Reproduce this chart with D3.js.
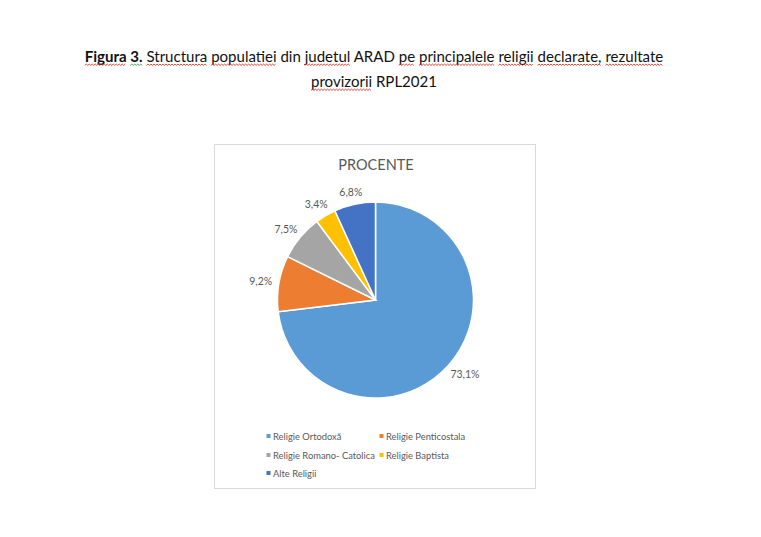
<!DOCTYPE html>
<html><head><meta charset="utf-8">
<script src="https://cdn.jsdelivr.net/npm/d3@7"></script>
<style>body{margin:0;background:#fff}svg{display:block}</style>
</head><body>
<svg id="c" width="761" height="537"></svg>
<script>
// ---- data ----
const categories = ["Religie Ortodoxă", "Religie Penticostala", "Religie Romano- Catolica", "Religie Baptista", "Alte Religii"];
const values = [73.1, 9.2, 7.5, 3.4, 6.8];
const valueLabels = ["73,1%", "9,2%", "7,5%", "3,4%", "6,8%"];
const colors = ["#5B9BD5", "#ED7D31", "#A5A5A5", "#FFC000", "#4472C4"];
const chartTitle = "PROCENTE";
// words of the figure caption: [text, bold, spell-check mark]
const captionLine1 = [["Figura", 1, "r"], [" ", 1, ""], ["3.", 1, "g"], [" ", 0, ""], ["Structura", 0, "r"], [" ", 0, ""],
  ["populatiei", 0, "r"], [" din ", 0, ""], ["judetul", 0, "r"], [" ARAD ", 0, ""], ["pe", 0, "r"], [" ", 0, ""],
  ["principalele", 0, "r"], [" ", 0, ""], ["religii", 0, "r"], [" ", 0, ""], ["declarate,", 0, "r"], [" ", 0, ""], ["rezultate", 0, "r"]];
const captionLine2 = [["provizorii", 0, "r"], [" RPL2021", 0, ""]];

const FONT = "Lato, 'Open Sans', sans-serif";
const svg = d3.select("#c");
svg.append("rect").attr("width", 761).attr("height", 537).attr("fill", "#fff");

// ---- caption ----
const sqColor = {r: "#E0301E", g: "#2E9E3E"};
function squiggle(x0, x1, y) {
  let d = `M${x0},${y}`;
  let up = true;
  for (let x = x0 + 1.5; x <= x1; x += 1.5) { d += `L${x},${up ? y - 1.3 : y}`; up = !up; }
  return d;
}
function caption(tokens, y, fitWidth, fs) {
  const t = svg.append("text").attr("y", y).attr("font-family", FONT).attr("font-size", fs)
    .attr("fill", "#111").style("white-space", "pre").attr("text-anchor", "middle").attr("x", 374);
  const spans = tokens.map(tk => t.append("tspan").text(tk[0]).attr("font-weight", tk[1] ? "bold" : "normal"));
  if (fitWidth) {
    const w = t.node().getComputedTextLength();
    fs = fs * fitWidth / w;
    t.attr("font-size", fs);
  }
  tokens.forEach((tk, i) => {
    if (!tk[2]) return;
    const n = spans[i].node();
    const len = tk[0].length;
    const x0 = n.getStartPositionOfChar(0).x;
    const x1 = n.getEndPositionOfChar(len - 1).x;
    svg.append("path").attr("d", squiggle(x0, x1, y + 3.4)).attr("fill", "none")
      .attr("stroke", sqColor[tk[2]]).attr("stroke-width", 0.9);
  });
  return fs;
}
const fs1 = caption(captionLine1, 62, 579, 15);
caption(captionLine2, 87, 0, fs1);

// ---- chart area ----
svg.append("rect").attr("x", 214.5).attr("y", 144.5).attr("width", 321).attr("height", 344)
  .attr("fill", "#fff").attr("stroke", "#D9D9D9").attr("stroke-width", 1);

svg.append("text").attr("x", 376).attr("y", 164).attr("text-anchor", "middle").attr("dominant-baseline", "central")
  .attr("font-family", FONT).attr("font-size", 14.5).attr("fill", "#595959").text(chartTitle);

const cx = 375.5, cy = 300, R = 98;
const pie = d3.pie().sort(null).value(d => d);
const arcs = pie(values);
const arc = d3.arc().innerRadius(0).outerRadius(R);
const g = svg.append("g").attr("transform", `translate(${cx},${cy})`);
g.selectAll("path").data(arcs).join("path").attr("d", arc)
  .attr("fill", (d, i) => colors[i]).attr("stroke", "#fff").attr("stroke-width", 1.5);

// outside-end labels
const lab = g.selectAll("text.lab").data(arcs).join("text").attr("class", "lab")
  .attr("font-family", FONT).attr("font-size", 10.5).attr("fill", "#595959")
  .attr("text-anchor", "middle").attr("dominant-baseline", "central")
  .text((d, i) => valueLabels[i]);
lab.each(function(d) {
  const a = (d.startAngle + d.endAngle) / 2;
  const bb = this.getBBox();
  const pad = 7;
  const s = Math.sin(a), c = Math.cos(a);
  const px = (R + pad) * s, py = -(R + pad) * c;
  d3.select(this).attr("x", px + bb.width / 2 * s).attr("y", py - bb.height / 2 * c);
});

// ---- legend ----
const legCols = [273, 386], legRows = [436, 455, 473];
const leg = svg.append("g");
let legFs = 10;
categories.forEach((name, i) => {
  const col = i % 2, row = Math.floor(i / 2);
  const x = legCols[col], y = legRows[row];
  leg.append("rect").attr("x", x - 6.5).attr("y", y - 2).attr("width", 4).attr("height", 4).attr("fill", colors[i]);
  leg.append("text").attr("class", "lt").attr("x", x).attr("y", y).attr("dominant-baseline", "central")
    .attr("font-family", FONT).attr("font-size", legFs).attr("fill", "#595959").text(name);
});
// fit legend font to the reference width of the longest item
const longest = leg.selectAll("text.lt").filter((d, i) => i === 2).node();
legFs = legFs * 102 / longest.getComputedTextLength();
leg.selectAll("text.lt").attr("font-size", legFs);
</script>
</body></html>
